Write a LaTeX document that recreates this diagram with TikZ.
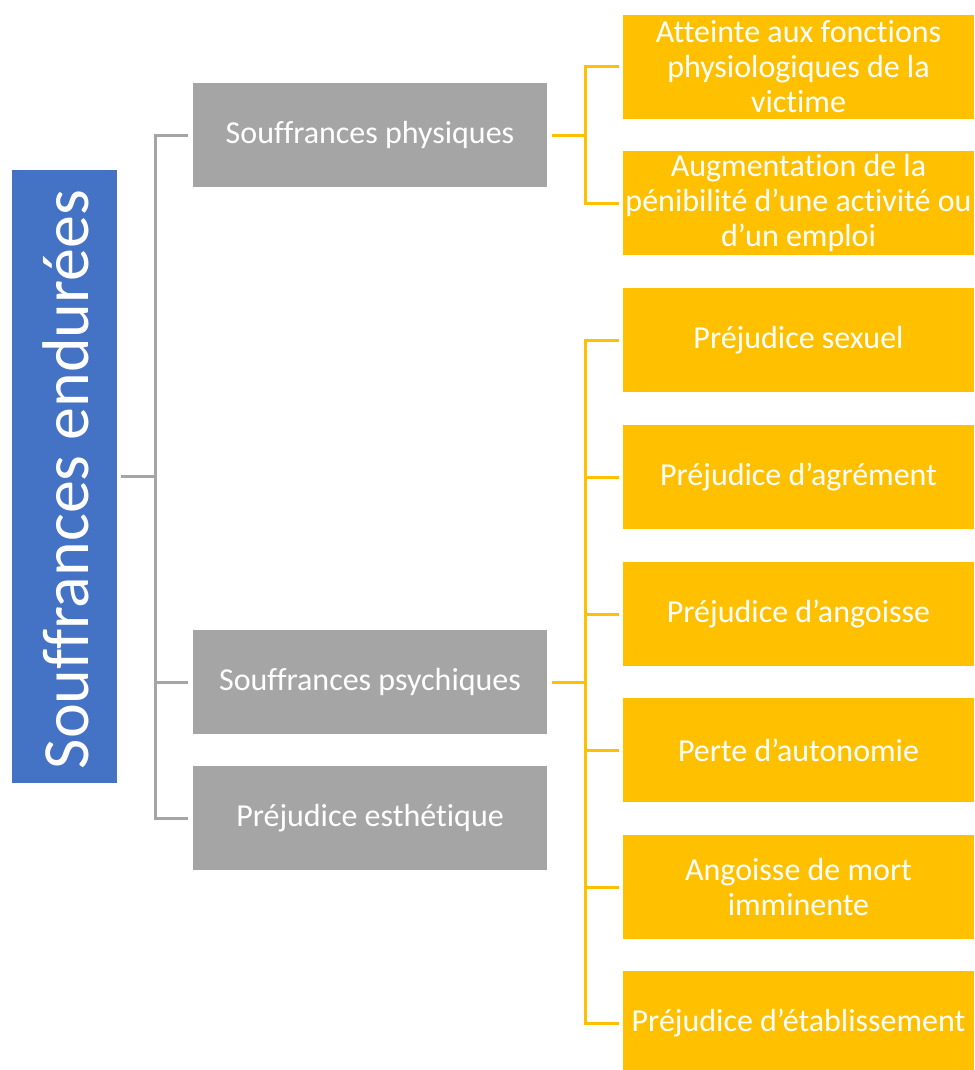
\documentclass[tikz,border=0pt]{standalone}
\usepackage{fontspec}
\setmainfont{Carlito}[Ligatures={NoCommon}]
\definecolor{cblue}{HTML}{4472C4}
\definecolor{cgray}{HTML}{A5A5A5}
\definecolor{cyel}{HTML}{FFC000}
\begin{document}
\begin{tikzpicture}[x=1pt,y=-1pt,
  rootbox/.style={fill=cblue,minimum width=105pt,minimum height=613pt,inner sep=0pt},
  graybox/.style={fill=cgray,minimum width=354pt,minimum height=104pt,inner sep=0pt,text=white,font=\fontsize{32}{35}\selectfont,align=center},
  yelbox/.style={fill=cyel,minimum width=351pt,minimum height=104pt,inner sep=0pt,text=white,font=\fontsize{32}{35}\selectfont,align=center},
  gline/.style={draw=cgray,line width=3pt,shorten <=4pt,shorten >=5pt},
  yline/.style={draw=cyel,line width=3pt,shorten <=5pt,shorten >=4pt}]
\useasboundingbox (0,0) rectangle (974,1070);
\begin{scope}
\clip (0,0) rectangle (974,1070);
\node[rootbox] (root) at (64.5,476.5) {};
\node[rotate=90,text=white,font=\fontsize{66}{70}\selectfont] (roottxt) at ([xshift=1pt,yshift=-3pt]root.center) {Souffrances endurées};

\node[graybox] (phy) at (370,135) {Souffrances physiques};
\node[graybox] (psy) at (370,682) {Souffrances psychiques};
\node[graybox] (est) at (370,818) {Préjudice esthétique};

\node[yelbox] (y1) at (798.5,67) {Atteinte aux fonctions\\physiologiques de la\\victime};
\node[yelbox] (y2) at (798.5,203) {Augmentation de la\\pénibilité d’une activité ou\\d’un emploi};
\node[yelbox] (y3) at (798.5,340) {Préjudice sexuel};
\node[yelbox] (y4) at (798.5,477) {Préjudice d’agrément};
\node[yelbox] (y5) at (798.5,614) {Préjudice d’angoisse};
\node[yelbox] (y6) at (798.5,750) {Perte d’autonomie};
\node[yelbox] (y7) at (798.5,887) {Angoisse de mort\\imminente};
\node[yelbox] (y8) at (798.5,1023) {Préjudice d’établissement};
\end{scope}

\foreach \c in {phy,psy,est}
  \draw[gline] (root.east) -- ++(38,0) |- (\c.west);
\foreach \c in {y1,y2}
  \draw[yline] (phy.east) -- ++(38,0) |- (\c.west);
\foreach \c in {y3,y4,y5,y6,y7,y8}
  \draw[yline] (psy.east) -- ++(38,0) |- (\c.west);
\end{tikzpicture}
\end{document}
